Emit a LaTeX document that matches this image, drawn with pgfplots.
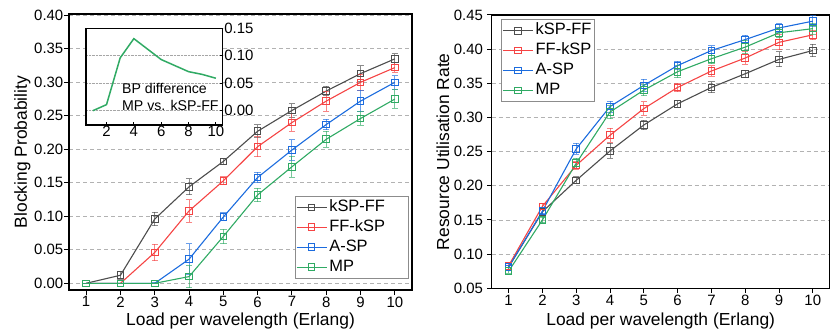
\documentclass[border=0pt]{standalone}
\usepackage{fontspec}
\setmainfont{Liberation Sans}
\usepackage{pgfplots}
\pgfplotsset{compat=1.18}
\usepackage{pgfplotstable}

\definecolor{cK}{RGB}{77,77,77}
\definecolor{cF}{RGB}{245,68,68}
\definecolor{cA}{RGB}{28,108,222}
\definecolor{cM}{RGB}{48,170,100}

% Blocking probability: x y err
\pgfplotstableread{
x y e
1 0 0
2 0.012 0.006
3 0.096 0.010
4 0.144 0.012
5 0.182 0.004
6 0.227 0.010
7 0.258 0.010
8 0.287 0.007
9 0.313 0.012
10 0.335 0.008
}\bpK
\pgfplotstableread{
x y e
1 0 0
2 0 0
3 0.046 0.012
4 0.108 0.017
5 0.153 0.006
6 0.204 0.015
7 0.240 0.013
8 0.272 0.015
9 0.300 0.012
10 0.322 0.007
}\bpF
\pgfplotstableread{
x y e
1 0 0
2 0 0
3 0 0.001
4 0.036 0.023
5 0.099 0.006
6 0.158 0.008
7 0.199 0.015
8 0.237 0.008
9 0.272 0.016
10 0.300 0.010
}\bpA
\pgfplotstableread{
x y e
1 0 0
2 0 0
3 0 0
4 0.010 0.017
5 0.070 0.011
6 0.132 0.010
7 0.174 0.016
8 0.215 0.012
9 0.246 0.010
10 0.275 0.014
}\bpM

% Resource utilisation
\pgfplotstableread{
x y e
1 0.081 0.003
2 0.162 0.004
3 0.208 0.005
4 0.251 0.011
5 0.289 0.007
6 0.320 0.005
7 0.344 0.008
8 0.364 0.005
9 0.385 0.011
10 0.398 0.009
}\ruK
\pgfplotstableread{
x y e
1 0.083 0.003
2 0.170 0.004
3 0.230 0.006
4 0.274 0.010
5 0.313 0.010
6 0.344 0.006
7 0.368 0.008
8 0.387 0.009
9 0.410 0.011
10 0.421 0.007
}\ruF
\pgfplotstableread{
x y e
1 0.081 0.003
2 0.163 0.004
3 0.254 0.008
4 0.316 0.008
5 0.347 0.009
6 0.376 0.006
7 0.398 0.007
8 0.414 0.006
9 0.431 0.006
10 0.441 0.008
}\ruA
\pgfplotstableread{
x y e
1 0.075 0.003
2 0.150 0.004
3 0.233 0.007
4 0.308 0.010
5 0.340 0.008
6 0.367 0.009
7 0.386 0.007
8 0.403 0.010
9 0.424 0.007
10 0.430 0.008
}\ruM

\pgfplotstableread{
x y
1 0.000
2 0.011
3 0.096
4 0.131
5 0.112
6 0.093
7 0.082
8 0.071
9 0.066
10 0.059
}\diff

\pgfplotsset{
  base/.style={
    scale only axis, anchor=south west,
    xmin=0.5, xmax=10.5, xtick={1,...,10},
    axis line style={line width=1.1bp},
    tick align=outside, xtick pos=bottom, ytick pos=left,
    major tick length=4.5bp,
    tick style={line width=1bp, black},
    ymajorgrids,
    grid style={dash pattern=on 4bp off 3bp, color=black!30, line width=0.8bp},
    tick label style={font=\fontsize{15}{18}\selectfont},
    /pgf/number format/assume math mode=true,
    yticklabel style={/pgf/number format/fixed, /pgf/number format/fixed zerofill, /pgf/number format/precision=2},
    xticklabel style={inner sep=2bp},
    label style={font=\fontsize{17.5}{21}\selectfont},
    xlabel={Load per wavelength (Erlang)},
    legend cell align=left,
    legend style={font=\fontsize{16.5}{20}\selectfont, draw=black!45, line width=0.8bp,
      inner sep=1bp, row sep=0bp,
      nodes={inner sep=2.2bp, text height=12bp, text depth=3.5bp}},
    legend image code/.code={\draw[mark repeat=2, mark phase=2, ##1] plot coordinates {(0bp,0bp) (15bp,0bp) (30bp,0bp)};},
  },
  ser/.style={color=#1, line width=1.1bp, mark=square, mark size=3.3bp,
    mark options={fill=white, solid, line width=1bp},
    error bars/.cd, y dir=both, y explicit,
    error bar style={color=#1, opacity=0.65, line width=1bp},
    error mark options={rotate=90, mark size=3.2bp, line width=1bp, color=#1, opacity=0.65}},
}

\begin{document}
\begin{tikzpicture}
\path[use as bounding box] (0bp,0bp) rectangle (831bp,331bp);

% ---------- left: blocking probability ----------
\begin{axis}[base, at={(69bp,41bp)}, width=343bp, height=276bp,
  ymin=-0.01, ymax=0.402,
  ytick={0,0.05,0.1,0.15,0.2,0.25,0.3,0.35,0.4},
  yticklabel style={inner sep=1bp},
  ylabel={Blocking Probability},
  ylabel style={at={(axis description cs:-0.123,0.5)}, anchor=base},
  xlabel style={at={(axis description cs:0.5,-0.129)}, anchor=base},
  legend style={at={(axis description cs:0.991,0.042)}, anchor=south east},
]
\addplot[ser=cK] table[x=x, y=y, y error=e] {\bpK};
\addlegendentry{\makebox[76bp][l]{kSP-FF}}
\addplot[ser=cF] table[x=x, y=y, y error=e] {\bpF};
\addlegendentry{\makebox[76bp][l]{FF-kSP}}
\addplot[ser=cA] table[x=x, y=y, y error=e] {\bpA};
\addlegendentry{\makebox[76bp][l]{A-SP}}
\addplot[ser=cM] table[x=x, y=y, y error=e] {\bpM};
\addlegendentry{\makebox[76bp][l]{MP}}
\end{axis}

% ---------- inset ----------
\begin{axis}[scale only axis, anchor=south west, at={(86bp,206bp)},
  width=136.7bp, height=96.8bp,
  xmin=0.5, xmax=10.5, ymin=-0.026, ymax=0.15,
  xtick={2,4,6,8,10}, ytick={0,0.05,0.1,0.15},
  xtick pos=bottom, ytick pos=right, yticklabel pos=right,
  tick align=inside, major tick length=3bp,
  tick style={line width=0.9bp, black},
  axis line style={line width=1.1bp},
  axis background/.style={fill=white},
  ymajorgrids, grid style={densely dotted, black!35, line width=0.8bp},
  tick label style={font=\fontsize{15}{18}\selectfont},
  /pgf/number format/assume math mode=true,
  yticklabel style={/pgf/number format/fixed, /pgf/number format/fixed zerofill, /pgf/number format/precision=2},
  yticklabel style={inner sep=1.5bp},
  xticklabel style={inner sep=1bp},
]
\addplot[color=cM, line width=1.5bp] table[x=x, y=y] {\diff};
\node[anchor=base west, inner sep=0pt, font=\fontsize{14.2}{17}\selectfont] at (axis cs:3.13,0.0315) {BP difference};
\node[anchor=base west, inner sep=0pt, font=\fontsize{14.2}{17}\selectfont] at (axis cs:3.13,0) {MP vs. kSP-FF};
\end{axis}

% ---------- right: resource utilisation ----------
\begin{axis}[base, at={(491.7bp,42.7bp)}, width=338bp, height=273.3bp,
  ymin=0.05, ymax=0.45,
  ytick={0.05,0.1,0.15,0.2,0.25,0.3,0.35,0.4,0.45},
  yticklabel style={inner sep=4bp},
  ylabel={Resource Utilisation Rate},
  ylabel style={at={(axis description cs:-0.126,0.5)}, anchor=base},
  xlabel style={at={(axis description cs:0.5,-0.137)}, anchor=base},
  legend style={at={(axis description cs:0.0275,0.984)}, anchor=north west},
]
\addplot[ser=cK] table[x=x, y=y, y error=e] {\ruK};
\addlegendentry{kSP-FF}
\addplot[ser=cF] table[x=x, y=y, y error=e] {\ruF};
\addlegendentry{FF-kSP}
\addplot[ser=cA] table[x=x, y=y, y error=e] {\ruA};
\addlegendentry{A-SP}
\addplot[ser=cM] table[x=x, y=y, y error=e] {\ruM};
\addlegendentry{MP}
\end{axis}
\end{tikzpicture}
\end{document}
